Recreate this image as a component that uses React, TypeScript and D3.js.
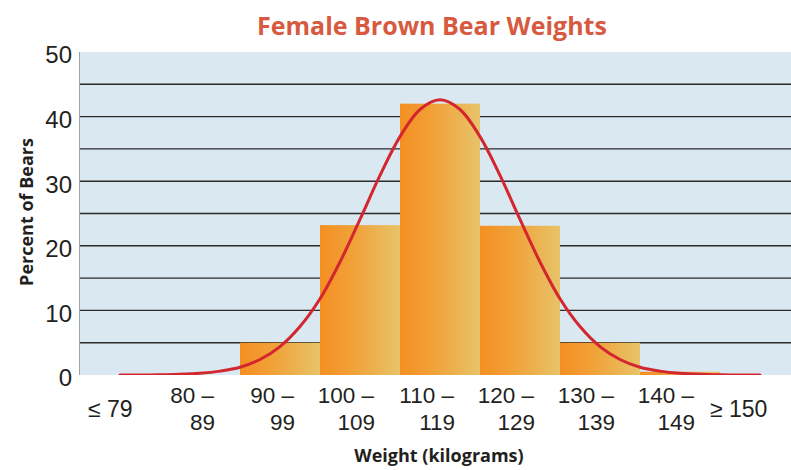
import React from "react";
import * as d3 from "d3";

const title = "Female Brown Bear Weights";
const yTitle = "Percent of Bears";
const xTitle = "Weight (kilograms)";

// category lower bounds (kg) and labels
const categoryLows = [70, 80, 90, 100, 110, 120, 130, 140, 150];
const labelTop = ["≤ 79", "80 –", "90 –", "100 –", "110 –", "120 –", "130 –", "140 –", "≥ 150"];
const labelBottom = ["", "89", "99", "109", "119", "129", "139", "149", ""];
const percents = [0, 0, 5, 23.2, 42, 23.1, 5, 0.5, 0];

const yTicks = [0, 10, 20, 30, 40, 50];
const gridValues = [5, 10, 15, 20, 25, 30, 35, 40, 45];

// red curve
const curveWeights = [75, 77.5, 80, 82.5, 85, 87.5, 90, 92.5, 95, 97.5, 100, 102.5, 105, 107.5, 110, 112.5, 115,
  117.5, 120, 122.5, 125, 127.5, 130, 132.5, 135, 137.5, 140, 142.5, 145, 147.5, 150, 152.5, 155];
const curvePercents = [0, 0, 0.04, 0.1, 0.26, 0.6, 1.2, 2.4, 4.4, 7.5, 11.8, 17.5, 24.1, 30.9, 36.9, 41.1, 42.6,
  41.1, 36.9, 30.9, 24.1, 17.5, 11.8, 7.5, 4.4, 2.4, 1.2, 0.6, 0.26, 0.1, 0.04, 0, 0];

export default function App() {
  const W = 791, H = 470;
  const x = d3.scaleLinear().domain([70, 160]).range([80, 800]);
  const y = d3.scaleLinear().domain([0, 50]).range([375, 52]);
  const bw = x(80) - x(70);

  const line = d3.line<number>()
    .x((_, i) => x(curveWeights[i]))
    .y((d) => y(d))
    .curve(d3.curveCatmullRom);

  const font = "'Open Sans', 'DejaVu Sans', sans-serif";
  const tickFont = "'Liberation Sans', Arial, sans-serif";
  const ink = "#231f20";

  return (
    <svg width={W} height={H} style={{ position: "absolute", left: 0, top: 0, background: "#fff" }}
      fontFamily={font}>
      <defs>
        <linearGradient id="barGrad" x1="0" x2="1" y1="0" y2="0">
          <stop offset="0%" stopColor="#f48f22" />
          <stop offset="45%" stopColor="#f0a33a" />
          <stop offset="100%" stopColor="#e7c36a" />
        </linearGradient>
        <clipPath id="plotClip">
          <rect x={x(70) - 1} y={y(50)} width={x(160) - x(70) + 1} height={y(0) - y(50)} />
        </clipPath>
      </defs>
      <text x={257} y={35} fill="#d75a40" fontSize={25} fontWeight="bold">{title}</text>

      <rect x={x(70)} y={y(50)} width={x(160) - x(70)} height={y(0) - y(50)} fill="#d9e8f1" />
      {gridValues.map((g) => (
        <line key={g} x1={x(70)} x2={x(160)} y1={y(g)} y2={y(g)} stroke="#2b2b2b" strokeWidth={1.4} />
      ))}
      <line x1={x(70) - 0.5} x2={x(70) - 0.5} y1={y(50)} y2={y(0)} stroke="#9aa3a8" strokeWidth={1} />

      <g clipPath="url(#plotClip)">
        {percents.map((p, i) =>
          p > 0 ? (
            <rect key={i} x={x(categoryLows[i])} y={y(p)} width={bw} height={y(0) - y(p)} fill="url(#barGrad)" />
          ) : null
        )}
        <path d={line(curvePercents) || ""} fill="none" stroke="#d3262f" strokeWidth={3} strokeLinecap="round" />
      </g>

      {yTicks.map((t) => (
        <text key={t} x={72} y={y(t) + 5} textAnchor="end" dominantBaseline="middle" fontSize={24}
          fontFamily={tickFont} fill={ink}>
          {t}
        </text>
      ))}

      {categoryLows.map((lo, i) => {
        if (labelBottom[i] === "") {
          const sx = i === 0 ? x(lo) + 8 : x(lo) - 10;
          return (
            <text key={i} x={sx} y={417} fontSize={23} fontFamily={tickFont} fill={ink}>{labelTop[i]}</text>
          );
        }
        const ex = x(lo + 5) + 14;
        return (
          <g key={i} fontFamily={tickFont}>
            <text x={ex} y={403} textAnchor="end" fontSize={22.5} fill={ink}>{labelTop[i]}</text>
            <text x={ex + 1} y={430} textAnchor="end" fontSize={22.5} fill={ink}>{labelBottom[i]}</text>
          </g>
        );
      })}

      <text transform={`translate(33, 212) rotate(-90)`} textAnchor="middle" fontSize={18} fontWeight="bold" fill={ink}>
        {yTitle}
      </text>
      <text x={439} y={462} textAnchor="middle" fontSize={18} fontWeight="bold" fill={ink}>{xTitle}</text>
    </svg>
  );
}
